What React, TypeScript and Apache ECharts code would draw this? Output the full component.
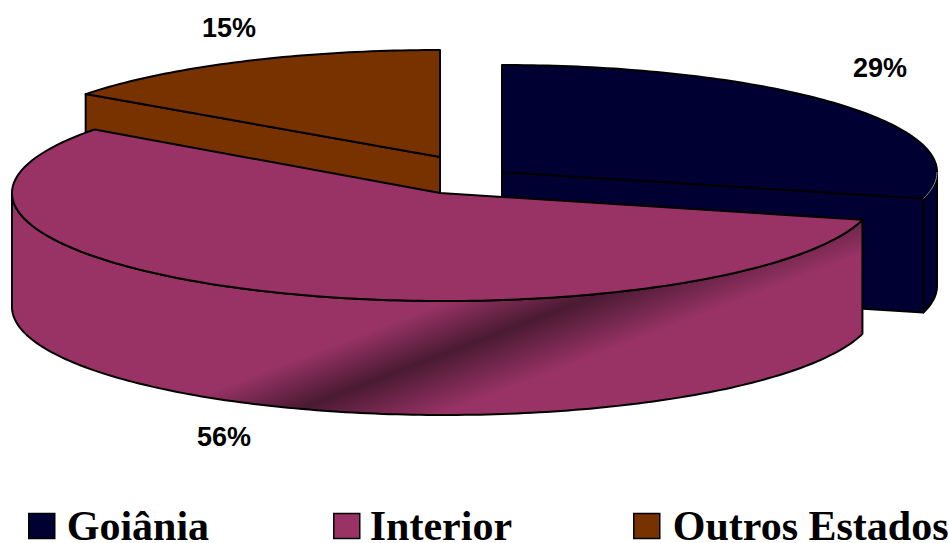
import React, { useEffect, useRef } from "react";
import * as echarts from "echarts";

// Share of origin, in percent, with one exploded 3D pie slice per category.
const categories = ["Goiânia", "Interior", "Outros Estados"];
const shares = [29, 56, 15];
const colours = ["#000033", "#993366", "#783200"];

// Slice geometry: apex, centre of the elliptical rim, radii, wall height.
const sliceLayout = [
  { apexX: 502, apexY: 172, cx: 502, cy: 172, rx: 435, ry: 107, labelX: 880, labelY: 68, z: 2 },
  { apexX: 440, apexY: 193, cx: 444, cy: 193, rx: 432, ry: 108, labelX: 224, labelY: 437, z: 3 },
  { apexX: 440, apexY: 157, cx: 440, cy: 157, rx: 438, ry: 107, labelX: 229, labelY: 28, z: 1 },
];
const wallHeight = 114;
const legendMarkers = [28, 333, 633];
const legendTextPadding = [7, 5, 8];

type Pt = [number, number];

const rad = (deg: number) => (deg * Math.PI) / 180;

function rimPoints(l: (typeof sliceLayout)[number], from: number, to: number, dy = 0): Pt[] {
  const steps = Math.max(2, Math.ceil(Math.abs(to - from)));
  const out: Pt[] = [];
  for (let i = 0; i <= steps; i++) {
    const a = rad(from + ((to - from) * i) / steps);
    out.push([l.cx + l.rx * Math.sin(a), l.cy - l.ry * Math.cos(a) + dy]);
  }
  return out;
}

function App() {
  const ref = useRef<HTMLDivElement>(null);

  useEffect(() => {
    document.body.style.margin = "0";
    const chart = echarts.init(ref.current!, undefined, { renderer: "svg" });
    const total = shares.reduce((a, b) => a + b, 0);

    const drawSlice = (index: number) => (_params: any, api: any) => {
      const value = api.value(0) as number;
      const l = sliceLayout[index];
      const before = shares.slice(0, index).reduce((a, b) => a + b, 0);
      const start = (before / total) * 360;
      const end = start + (value / total) * 360;
      const edge = { stroke: "#000", lineWidth: 2, lineJoin: "round" as const };

      // Dark sheen that crosses the outer wall of the largest slice.
      const wallFill =
        index === 1
          ? new echarts.graphic.LinearGradient(
              430, 308, 467, 405,
              [
                { offset: 0, color: colours[1] },
                { offset: 0.46, color: "#4a1a33" },
                { offset: 1, color: colours[1] },
              ],
              true,
            )
          : colours[index];

      const children: any[] = [];

      const radialFace = (angle: number) => {
        const [p] = rimPoints(l, angle, angle);
        children.push({
          type: "polygon",
          shape: {
            points: [
              [l.apexX, l.apexY],
              p,
              [p[0], p[1] + wallHeight],
              [l.apexX, l.apexY + wallHeight],
            ],
          },
          style: { fill: colours[index], ...edge },
        });
      };
      if (Math.sin(rad(start)) < -1e-6) radialFace(start);
      if (Math.sin(rad(end)) > 1e-6) radialFace(end);

      // Only the part of the rim facing the viewer has a visible wall.
      const wallFrom = Math.max(start, 90);
      const wallTo = Math.min(end, 270);
      if (wallTo > wallFrom) {
        const top = rimPoints(l, wallFrom, wallTo);
        const bottom = rimPoints(l, wallFrom, wallTo, wallHeight).reverse();
        children.push({
          type: "polygon",
          shape: { points: [...top, ...bottom] },
          style: { fill: wallFill, ...edge },
        });
      }

      children.push({
        type: "polygon",
        shape: { points: [[l.apexX, l.apexY], ...rimPoints(l, start, end)] },
        style: { fill: colours[index], ...edge },
      });

      // The short rim of the first slice catches a thin highlight.
      if (index === 0 && wallTo > wallFrom) {
        children.push({
          type: "polyline",
          shape: { points: rimPoints(l, wallFrom, wallTo) },
          style: { fill: "none", stroke: "#8f8fa8", lineWidth: 1 },
        });
      }

      children.push({
        type: "text",
        style: {
          text: `${value}%`,
          x: l.labelX,
          y: l.labelY,
          fill: "#000",
          font: 'bold 27px "Liberation Sans"',
          align: "center",
          verticalAlign: "middle",
        },
      });

      return { type: "group", children };
    };

    chart.setOption({
      animation: false,
      backgroundColor: "#fff",
      legend: categories.map((name, i) => ({
        data: [name],
        icon: "rect",
        left: legendMarkers[i],
        top: 505,
        padding: 0,
        itemWidth: 26,
        itemHeight: 25,
        selectedMode: false,
        itemStyle: { borderColor: "#000", borderWidth: 1.5 },
        textStyle: {
          fontFamily: "Liberation Serif",
          fontWeight: "bold",
          fontSize: 42,
          color: "#000",
          padding: [0, 0, 0, legendTextPadding[i]],
        },
      })),
      series: categories.map((name, i) => ({
        type: "custom",
        name,
        coordinateSystem: "none",
        silent: true,
        z: sliceLayout[i].z,
        itemStyle: { color: colours[i] },
        data: [shares[i]],
        renderItem: drawSlice(i),
      })),
    });

    return () => chart.dispose();
  }, []);

  return <div ref={ref} style={{ width: 949, height: 543 }} />;
}

export default App;
